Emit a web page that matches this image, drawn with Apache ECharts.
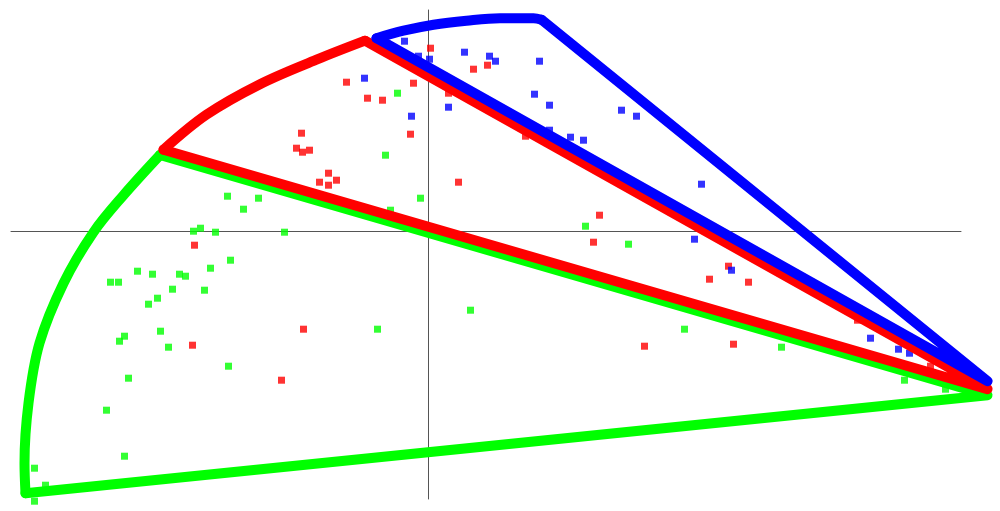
<!DOCTYPE html>
<html>
<head>
<meta charset="utf-8">
<script src="https://cdn.jsdelivr.net/npm/echarts@6/dist/echarts.min.js"></script>
<style>
html,body{margin:0;padding:0;background:#fff;}
#chart{width:1000px;height:511px;}
</style>
</head>
<body>
<div id="chart"></div>
<script>
// Scatter points (data units)
const bluePoints = [
  [-0.24,1.90],[-0.10,1.75],[0.01,1.72],[0.36,1.79],[0.61,1.75],[0.67,1.70],[1.11,1.70],
  [-0.64,1.53],[-0.17,1.15],[0.20,1.24],[1.06,1.37],[1.21,1.26],[1.93,1.21],[2.08,1.15],
  [1.21,1.01],[1.42,0.94],[1.55,0.91],[2.73,0.47],[2.66,-0.08],[3.03,-0.39],
  [4.42,-1.07],[4.70,-1.18],[4.81,-1.22]
];
const redPoints = [
  [-1.27,0.98],[-1.32,0.83],[-1.26,0.79],[-1.19,0.81],[-1.00,0.58],[-1.09,0.49],[-1.00,0.46],
  [-2.34,-0.14],[0.02,1.83],[0.45,1.62],[0.59,1.66],[-0.82,1.49],[-0.15,1.48],[-0.61,1.33],
  [-0.46,1.31],[0.20,1.38],[-0.18,0.97],[0.97,0.95],[-0.92,0.51],[0.30,0.49],[1.71,0.16],
  [1.65,-0.11],[-2.36,-1.14],[-1.25,-0.98],[-1.47,-1.49],[2.16,-1.15],[3.00,-0.35],
  [2.81,-0.48],[3.20,-0.51],[3.05,-1.13],[4.29,-0.89],[5.02,-1.35]
];
const greenPoints = [
  [-2.01,0.35],[-1.70,0.33],[-1.85,0.22],[-2.35,0.00],[-2.28,0.03],[-2.13,-0.01],[-1.44,-0.01],
  [-0.31,1.38],[-0.43,0.76],[-0.08,0.33],[-0.38,0.21],[1.57,0.05],[2.00,-0.13],
  [-1.98,-0.29],[-2.18,-0.37],[-2.91,-0.40],[-2.76,-0.43],[-2.49,-0.43],[-2.43,-0.45],
  [-3.18,-0.51],[-3.10,-0.51],[-2.56,-0.58],[-2.24,-0.59],[-2.71,-0.67],[-2.80,-0.73],
  [-3.04,-1.05],[-3.09,-1.10],[-2.68,-1.00],[-2.60,-1.16],[-2.00,-1.35],[-3.00,-1.47],
  [-3.22,-1.79],[-3.04,-2.25],[-3.94,-2.37],[-3.83,-2.54],[-3.94,-2.70],
  [-0.51,-0.98],[0.42,-0.79],[2.56,-0.98],[3.53,-1.16],[4.76,-1.49],[5.17,-1.58]
];
// Wedge outlines (data units): apex and arc
const greenApex = [5.59,-1.64];
const greenArc = [
  [-2.685,0.762],[-3.05,0.36],[-3.35,-0.01],[-3.65,-0.52],[-3.89,-1.12],
  [-4.00,-1.72],[-4.04,-2.32],[-4.03,-2.62]
];
const redApex = [5.59,-1.58];
const redArc = [
  [-2.65,0.815],[-2.22,1.165],[-1.685,1.47],[-1.12,1.715],[-0.635,1.905]
];
const blueApex = [5.59,-1.50];
const blueArc = [
  [-0.52,1.93],[-0.25,2.005],[0.05,2.065],[0.38,2.105],[0.715,2.13],[1.05,2.13],[1.13,2.115]
];

const chart = echarts.init(document.getElementById('chart'));
function scatter(data, color){
  return {type:'scatter', data:data, symbol:'rect', symbolSize:7, clip:false, z:1,
    xAxisIndex:1, yAxisIndex:1, itemStyle:{color:color}, silent:true};
}
function lineS(data, color, z, smooth){
  return {type:'line', data:data, showSymbol:false, symbol:'none', clip:false, z:z, smooth:smooth,
    xAxisIndex:1, yAxisIndex:1,
    lineStyle:{color:color, width:10, join:'round', cap:'round'}, silent:true};
}
function wedge(apex, arc, color, z){
  return [
    lineS([arc[0], apex, arc[arc.length-1]], color, z, false),
    lineS(arc, color, z, 0.35)
  ];
}
const X0 = -4.175, Y0 = -2.678, Y1 = 2.212; // 100 px per unit
chart.setOption({
  animation:false,
  backgroundColor:'#fff',
  grid:[
    {left:11, right:39, top:10, bottom:12, containLabel:false},
    {left:11, right:0, top:10, bottom:12, containLabel:false}
  ],
  xAxis:[
    {gridIndex:0, type:'value', min:X0, max:5.325,
      axisLine:{onZero:true, lineStyle:{color:'#555', width:1}},
      axisTick:{show:false}, axisLabel:{show:false}, splitLine:{show:false}},
    {gridIndex:1, type:'value', min:X0, max:X0+9.89, show:false, splitLine:{show:false}}
  ],
  yAxis:[
    {gridIndex:0, type:'value', min:Y0, max:Y1,
      axisLine:{onZero:true, lineStyle:{color:'#555', width:1}},
      axisTick:{show:false}, axisLabel:{show:false}, splitLine:{show:false}},
    {gridIndex:1, type:'value', min:Y0, max:Y1, show:false, splitLine:{show:false}}
  ],
  series:[
    scatter(greenPoints,'#00ff00'),
    scatter(redPoints,'#ff0000'),
    scatter(bluePoints,'#0000ff'),
    ...wedge(greenApex, greenArc, '#00ff00', 2),
    ...wedge(redApex, redArc, '#ff0000', 3),
    ...wedge(blueApex, blueArc, '#0000ff', 4)
  ]
});
</script>
</body>
</html>
